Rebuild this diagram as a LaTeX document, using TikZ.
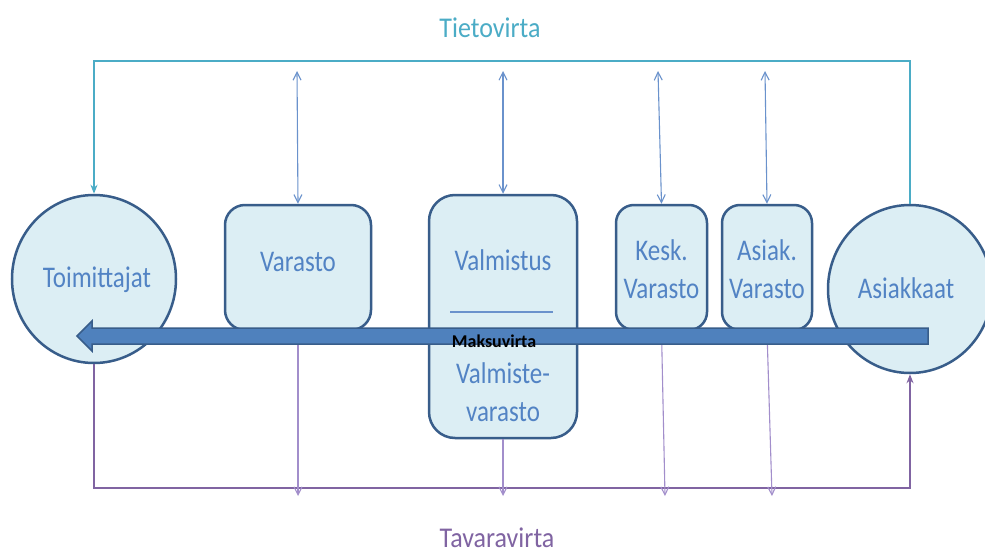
\documentclass[tikz,border=0pt]{standalone}
\usepackage{fontspec}
\setmainfont{Carlito}
\usetikzlibrary{arrows.meta,shapes.geometric,calc}
\definecolor{cyanline}{HTML}{4BACC6}
\definecolor{thinblue}{HTML}{6A92CC}
\definecolor{purp}{HTML}{8064A2}
\definecolor{thinpurp}{HTML}{A28ECB}
\definecolor{nodefill}{HTML}{DCEEF4}
\definecolor{nodeborder}{HTML}{385D8A}
\definecolor{labeltext}{HTML}{5283C4}
\definecolor{bigarrow}{HTML}{4F81BD}
\newcommand\tallt[1]{\scalebox{1}[1.2]{#1}}
\newcommand\midt[1]{\scalebox{1}[1.1]{#1}}
\begin{document}
\begin{tikzpicture}[x=1pt,y=-1pt,
  box/.style={draw=nodeborder, line width=2.5pt, fill=nodefill, inner sep=0pt},
  orb/.style={ellipse, draw=nodeborder, line width=2.5pt, fill=nodefill, inner sep=0pt,
    minimum width=164pt, minimum height=168pt},
  lbl/.style={text=labeltext, font=\fontsize{25}{38}\selectfont, align=center, inner sep=0pt},
  infoline/.style={draw=cyanline, line width=2.2pt},
  goodsline/.style={draw=purp, line width=2.2pt},
  infoarrow/.style={draw=thinblue, line width=1.1pt,
    {Straight Barb[length=8pt,width=8pt]}-{Straight Barb[length=8pt,width=8pt]}},
  goodsarrow/.style={draw=thinpurp, line width=1.1pt,
    -{Straight Barb[length=8pt,width=8pt]}},
  title/.style={font=\fontsize{26}{30}\selectfont, inner sep=0pt}
]
\useasboundingbox[fill=white] (0,0) rectangle (985,554);

% main nodes
\node[orb] (toim) at (94,279) {};
\node[orb] (asi) at (910,289) {};
\node[box, rounded corners=20pt, minimum width=146pt, minimum height=125pt] (vara) at (298,267.5) {};
\node[box, rounded corners=26pt, minimum width=148pt, minimum height=243pt] (valm) at (503,316.5) {};
\node[box, rounded corners=18pt, minimum width=91pt, minimum height=125pt] (kesk) at (661.5,267.5) {};
\node[box, rounded corners=18pt, minimum width=90pt, minimum height=125pt] (asvar) at (767,267.5) {};

% labels
\node[lbl] (toimtxt) at (97,280) {\tallt{Toimittajat}};
\node[lbl] (asitxt) at (906,288) {\tallt{Asiakkaat}};
\node[lbl] (varatxt) at (298,262) {\tallt{Varasto}};
\node[lbl] (valmtxt) at (503,260) {\tallt{Valmistus}};
\node[lbl] (valmvtxt) at (503,392) {\tallt{Valmiste-}\\\tallt{varasto}};
\node[lbl] (kesktxt) at (661.5,269) {\tallt{Kesk.}\\\tallt{Varasto}};
\node[lbl] (asvartxt) at (767,269) {\tallt{Asiak.}\\\tallt{Varasto}};
\coordinate (sepl) at (450,312);
\coordinate (sepr) at (553,312);
\draw[draw=thinblue, line width=1.5pt] (sepl) -- (sepr);

% titles
\node[title, text=cyanline] (tieto) at (490,28) {\midt{Tietovirta}};
\node[title, text=purp] (tavara) at (497,538) {\midt{Tavaravirta}};

% information flow
\coordinate (tl) at (94,61);
\coordinate (t1) at (297,71);
\coordinate (t2) at (503,71);
\coordinate (t3) at (658,71);
\coordinate (t4) at (765,71);
\draw[infoline, -{Stealth[length=9pt,width=7pt]}] (asi.north) |- (tl) -- (toim.north);
\draw[infoarrow] (t1) -- (vara.north);
\draw[infoarrow] (t2) -- (valm.north);
\draw[infoarrow] (t3) -- (kesk.north);
\draw[infoarrow] (t4) -- (asvar.north);

% goods flow
\coordinate (bl) at (94,488);
\coordinate (b1) at (298,496);
\coordinate (b2) at (503,496);
\coordinate (b3) at (665,496);
\coordinate (b4) at (772,496);
\draw[goodsline, -{Stealth[length=9pt,width=7pt]}] (toim.south) |- (bl) -| (asi.south);
\draw[goodsarrow] (vara.south) -- (b1);
\draw[goodsarrow] (valm.south) -- (b2);
\draw[goodsarrow] (kesk.south) -- (b3);
\draw[goodsarrow] (asvar.south) -- (b4);

% payment flow (big arrow)
\coordinate (mstart) at (928,336);
\coordinate (mtip) at (77,336);
\draw[fill=bigarrow, draw=nodeborder, line width=1.5pt, line join=miter]
  ($(mstart)+(0,-8)$) -- ($(mtip)+(15,-8)$) -- ($(mtip)+(15,-15)$) -- (mtip)
  -- ($(mtip)+(15,15)$) -- ($(mtip)+(15,8)$) -- ($(mstart)+(0,8)$) -- cycle;
\node[font=\fontsize{18}{20}\selectfont\bfseries, text=black, inner sep=0pt] (maks) at (494,341) {Maksuvirta};
\end{tikzpicture}
\end{document}
